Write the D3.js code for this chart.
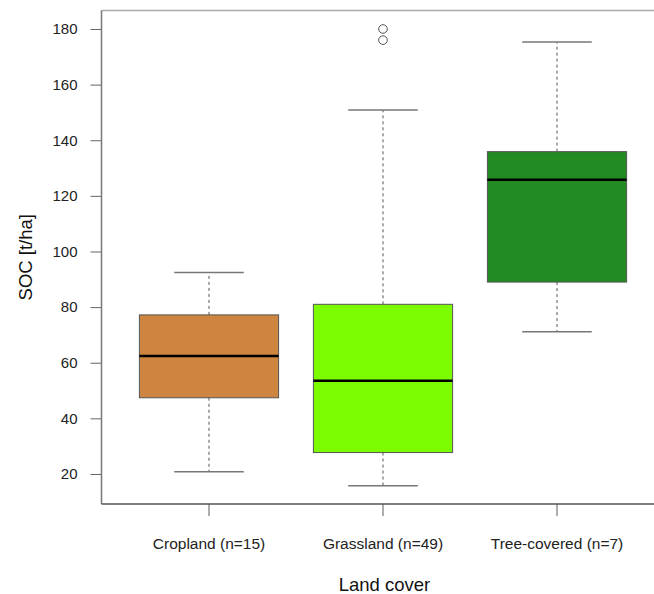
<!DOCTYPE html>
<html>
<head>
<meta charset="utf-8">
<script src="https://cdnjs.cloudflare.com/ajax/libs/d3/7.8.5/d3.min.js"></script>
<style>
  html, body { margin: 0; padding: 0; background: #fff; }
  svg { display: block; font-family: "Liberation Sans", Arial, sans-serif; }
</style>
</head>
<body>
<div id="chart"></div>
<script>
// données
const categories = ['Cropland (n=15)', 'Grassland (n=49)', 'Tree-covered (n=7)'];
const colors     = ['#CD853F', '#7CFC00', '#228B22'];
const whiskerLo  = [20.8, 15.8, 71.1];
const q1         = [47.4, 27.7, 89.0];
const medians    = [62.4, 53.5, 125.8];
const q3         = [77.2, 81.0, 135.9];
const whiskerHi  = [92.4, 150.9, 175.3];
const outliers   = [[], [176.0, 180.0], []];
const yTicks     = [20, 40, 60, 80, 100, 120, 140, 160, 180];

const W = 654, H = 594;
const plot = { left: 101.5, right: 665, top: 10.5, bottom: 504 };
const FONT = '"Liberation Sans", Arial, sans-serif';

const svg = d3.select('#chart').append('svg')
  .attr('width', W).attr('height', H);

const y = d3.scaleLinear().domain([9.2, 186.65]).range([plot.bottom, plot.top]);
const x = d3.scaleBand().domain(categories).range([122, 644]).padding(0);
const bw = x.bandwidth() * 0.8;

const boxes = categories.map((c, i) => ({
  cat: c, color: colors[i], lo: whiskerLo[i], q1: q1[i], med: medians[i],
  q3: q3[i], hi: whiskerHi[i], out: outliers[i]
}));

// cadre
svg.append('line')
  .attr('x1', plot.left).attr('x2', W).attr('y1', plot.top).attr('y2', plot.top)
  .attr('stroke', '#aaa').attr('stroke-width', 1.5);

// axe Y
const yAxis = svg.append('g')
  .attr('transform', `translate(${plot.left},0)`)
  .call(d3.axisLeft(y).tickValues(yTicks).tickSize(11).tickPadding(13));
yAxis.select('.domain').remove();
yAxis.selectAll('.tick line').attr('stroke', '#666');
yAxis.selectAll('.tick text')
  .attr('font-size', 15).attr('fill', '#222').attr('font-family', FONT);
svg.append('line')
  .attr('x1', plot.left).attr('x2', plot.left).attr('y1', plot.top).attr('y2', plot.bottom)
  .attr('stroke', '#777').attr('stroke-width', 1.5);

// axe X
const xAxis = svg.append('g')
  .attr('transform', `translate(0,${plot.bottom})`)
  .call(d3.axisBottom(x).tickSize(12));
xAxis.select('.domain').remove();
xAxis.selectAll('.tick line').attr('stroke', '#777').attr('stroke-width', 1.2);
xAxis.selectAll('.tick text')
  .attr('y', 45).attr('dy', 0)
  .attr('font-size', 15.5).attr('fill', '#222').attr('font-family', FONT);
svg.append('line')
  .attr('x1', plot.left).attr('x2', W).attr('y1', plot.bottom).attr('y2', plot.bottom)
  .attr('stroke', '#555').attr('stroke-width', 1.5);

// titres des axes
svg.append('text')
  .attr('x', 384.5).attr('y', 591)
  .attr('text-anchor', 'middle').attr('font-size', 18.5).attr('fill', '#111')
  .text('Land cover');
svg.append('text')
  .attr('transform', `translate(32,${(plot.top + plot.bottom) / 2}) rotate(-90)`)
  .attr('text-anchor', 'middle').attr('font-size', 18.5).attr('fill', '#111')
  .text('SOC [t/ha]');

// boîtes à moustaches
const g = svg.append('g').selectAll('g')
  .data(boxes)
  .enter().append('g')
  .attr('transform', d => `translate(${x(d.cat) + x.bandwidth() / 2},0)`);

g.append('line').attr('class', 'wh')
  .attr('y1', d => y(d.q3)).attr('y2', d => y(d.hi));
g.append('line').attr('class', 'wh')
  .attr('y1', d => y(d.q1)).attr('y2', d => y(d.lo));
g.selectAll('.wh')
  .attr('x1', 0).attr('x2', 0)
  .attr('stroke', '#555').attr('stroke-width', 1).attr('stroke-dasharray', '3,3');

g.append('line').attr('class', 'cap').attr('y1', d => y(d.hi)).attr('y2', d => y(d.hi));
g.append('line').attr('class', 'cap').attr('y1', d => y(d.lo)).attr('y2', d => y(d.lo));
g.selectAll('.cap')
  .attr('x1', -bw / 4).attr('x2', bw / 4)
  .attr('stroke', '#777').attr('stroke-width', 1.5);

g.append('rect')
  .attr('x', -bw / 2).attr('width', bw)
  .attr('y', d => y(d.q3)).attr('height', d => y(d.q1) - y(d.q3))
  .attr('fill', d => d.color)
  .attr('stroke', '#555').attr('stroke-width', 1);

g.append('line')
  .attr('x1', -bw / 2).attr('x2', bw / 2)
  .attr('y1', d => y(d.med)).attr('y2', d => y(d.med))
  .attr('stroke', '#000').attr('stroke-width', 2.5);

g.selectAll('circle')
  .data(d => d.out)
  .enter().append('circle')
  .attr('cx', 0).attr('cy', v => y(v)).attr('r', 4.3)
  .attr('fill', 'none').attr('stroke', '#555').attr('stroke-width', 1);
</script>
</body>
</html>
